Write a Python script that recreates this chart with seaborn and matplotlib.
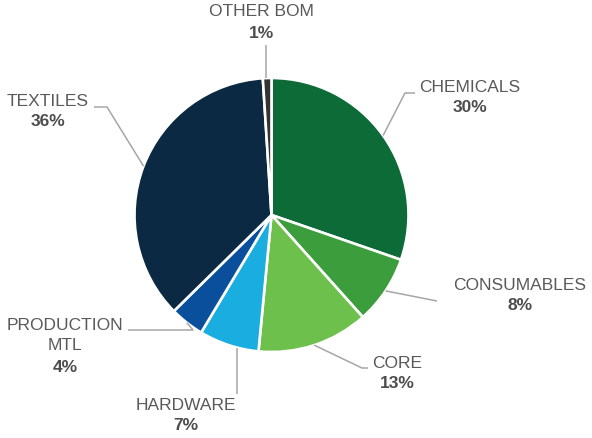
import numpy as np
import matplotlib
matplotlib.use("Agg")
import matplotlib.pyplot as plt
import seaborn as sns

# Spend breakdown by category (clockwise from 12 o'clock)
categories = ["CHEMICALS", "CONSUMABLES", "CORE", "HARDWARE",
              "PRODUCTION\nMTL", "TEXTILES", "OTHER BOM"]
shares = [30, 8, 13, 7, 4, 36, 1]
slice_colors = ["#0c6b36", "#3b9d3c", "#6cc04b", "#1aaee0",
                "#0a4f9c", "#0b2942", "#333333"]

sns.set_theme(style="white")
plt.rcParams["font.family"] = ["Liberation Sans", "DejaVu Sans"]

W, H = 592, 438
fig = plt.figure(figsize=(W / 100, H / 100), dpi=100)
ax = fig.add_axes([0, 0, 1, 1])
ax.set_xlim(0, W)
ax.set_ylim(0, H)
ax.set_aspect("equal")
ax.axis("off")

cx, cy, r = 271.5, H - 215, 137
wedges, _ = ax.pie(shares, colors=slice_colors, startangle=90,
                   counterclock=False, center=(cx, cy), radius=r,
                   wedgeprops=dict(edgecolor="white", linewidth=1.9),
                   frame=True)
ax.set_xlim(0, W)
ax.set_ylim(0, H)
ax.axis("off")

# label block centres (name line) and leader elbow paths, in pixel space
label_pos = {
    "CHEMICALS": (470, 87),
    "CONSUMABLES": (520, 285),
    "CORE": (397, 363),
    "HARDWARE": (186, 405),
    "PRODUCTION\nMTL": (65, 325),
    "TEXTILES": (48, 101),
    "OTHER BOM": (261, 12),
}
leader_path = {
    "CHEMICALS": [(405, 93), (415, 93)],
    "CONSUMABLES": [(437, 301)],
    "CORE": [(362, 368), (368, 368)],
    "HARDWARE": [(237, 394)],
    "PRODUCTION\nMTL": [(193, 330), (128, 330)],
    "TEXTILES": [(107, 107), (94, 107)],
    "OTHER BOM": [(266, 45)],
}
start_override = {"HARDWARE": "vertical", "OTHER BOM": "vertical"}

name_color = "#595959"
pct_color = "#4d4d4d"
line_color = "#a6a6a6"
fs = 12.5
line_h = 21

for w, cat, val in zip(wedges, categories, shares):
    mid = np.deg2rad((w.theta1 + w.theta2) / 2)
    sx, sy = cx + r * np.cos(mid), cy + r * np.sin(mid)
    pts = [(x, H - y) for x, y in leader_path[cat]]
    if cat in start_override:
        sx = pts[0][0]
        sy = cy - np.sqrt(max(r**2 - (sx - cx) ** 2, 0)) if sy < cy else \
            cy + np.sqrt(max(r**2 - (sx - cx) ** 2, 0))
    xs = [sx] + [p[0] for p in pts]
    ys = [sy] + [p[1] for p in pts]
    ax.plot(xs, ys, color=line_color, lw=1.1, solid_capstyle="butt", zorder=1)

    lx, ly = label_pos[cat]
    lines = cat.split("\n")
    for i, ln in enumerate(lines):
        ax.text(lx, H - (ly + i * line_h), ln, ha="center", va="center",
                fontsize=fs, color=name_color)
    ax.text(lx, H - (ly + len(lines) * line_h), f"{val}%", ha="center",
            va="center", fontsize=fs, fontweight="bold", color=pct_color)

fig.savefig("out.png", dpi=100, facecolor="white")
